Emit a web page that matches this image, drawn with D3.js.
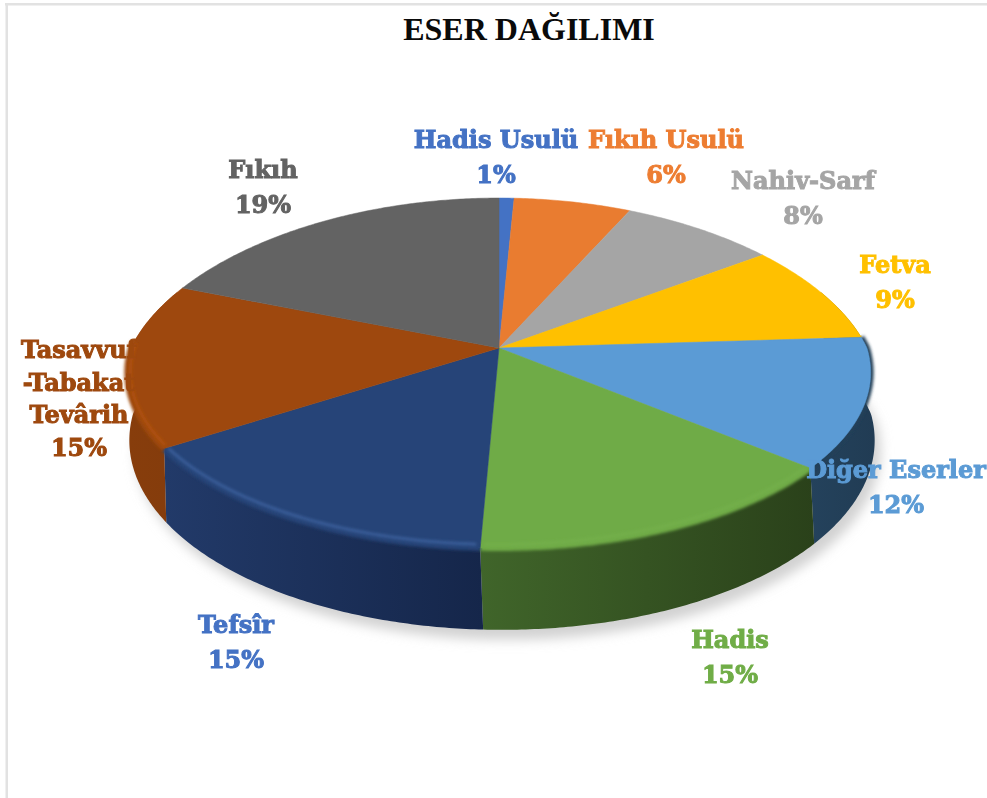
<!DOCTYPE html>
<html>
<head>
    <meta charset="utf-8">
    <style>
        body { margin: 0; background: #fff; }
        svg { display: block; }
        .title { font: bold 32px "Liberation Serif", serif; fill: #0a0a0a; text-anchor: middle; }
        .lbl { font: bold 24px "DejaVu Serif", serif; text-anchor: middle; stroke-width: 1px; }
    </style>
</head>
<body>
    <svg width="987" height="798"></svg>

    <script src="https://cdn.jsdelivr.net/npm/d3@7/dist/d3.min.js"></script>
    <script>
        var categories = ["Hadis Usulü", "Fıkıh Usulü", "Nahiv-Sarf", "Fetva", "Diğer Eserler", "Hadis", "Tefsîr", "Tasavvuf -Tabakat Tevârih", "Fıkıh"];
        // the labels round these, the slices show a little more
        var values = [0.8, 6.2, 8, 9, 12, 14.7, 15.2, 15.1, 19];
        var labelLines = [["Hadis Usulü"], ["Fıkıh Usulü"], ["Nahiv-Sarf"], ["Fetva"], ["Diğer Eserler"], ["Hadis"], ["Tefsîr"], ["Tasavvuf", "-Tabakat", "Tevârih"], ["Fıkıh"]];

        var faceColors = ["#4472c4", "#e97c30", "#a5a5a5", "#ffc000", "#5b9bd5", "#6fab47", "#264478", "#9e480e", "#636363"];
        var bevelColors = ["#4472c4", "#e97c30", "#a5a5a5", "#ffc000", "#223f58", "#6fab47", "#264478", "#9e480e", "#636363"];
        var labelColors = ["#4472c4", "#ed7d31", "#a5a5a5", "#ffc000", "#5b9bd5", "#70ad47", "#4472c4", "#9e480e", "#636363"];
        var wallLeft = ["#000", "#000", "#000", "#5f4700", "#24425c", "#40652a", "#223a69", "#873d0c", "#000"];
        var wallRight = ["#000", "#000", "#000", "#5f4700", "#213c54", "#2a411a", "#15264a", "#843c0c", "#000"];
        var rimLight = [null, null, null, null, null, "#74b04b", "#3c629f", "#b3520f", null];

        // label anchor: centre x, first baseline y
        var labelX = [496, 666, 803, 895, 896, 730, 236, 79, 263];
        var labelY = [148, 148, 189, 273, 478, 648, 633, 358, 178];

        var svg = d3.select("svg");
        var defs = svg.append("defs");

        function blur(id, sd) {
            defs.append("filter").attr("id", id)
                .attr("x", "-20%").attr("y", "-20%").attr("width", "140%").attr("height", "140%")
                .append("feGaussianBlur").attr("stdDeviation", sd);
        }
        blur("shadow", 6);
        blur("soft", 1.4);
        blur("txt", 0.35);

        // the top face and the foot of the wall, both in perspective
        var face = { cx: 499, cy: 348, a: 368, b: 171.4 };
        var foot = { cx: 502, cy: 414, a: 369, b: 185 };

        function project(ring, t) {
            var u = Math.sin(t), v = Math.cos(t);
            var kx = v > 0 ? 0.22 : 0.14;
            return [ring.cx + ring.a * u / (1 + kx * v), ring.cy - ring.b * v / (1 + v / 7)];
        }

        var line = d3.line();

        function arcPoints(ring, t0, t1) {
            var n = Math.max(2, Math.ceil((t1 - t0) / 0.01));
            var angle = d3.scaleLinear().domain([0, n]).range([t0, t1]);
            return d3.range(n + 1).map(function(i) { return project(ring, angle(i)); });
        }

        var pie = d3.pie().sort(null).value(function(d) { return d; });
        var arcs = pie(values);
        var pct = d3.format(".0f");

        // frame
        svg.append("rect").attr("x", 5).attr("y", 3).attr("width", 982).attr("height", 2.5).attr("fill", "#e2e2e2");
        svg.append("rect").attr("x", 5.5).attr("y", 3).attr("width", 2.5).attr("height", 795).attr("fill", "#e2e2e2");

        svg.append("text").attr("class", "title").attr("x", 529).attr("y", 40).text("ESER DAĞILIMI");

        // shadow under the disc
        var ALL = 2 * Math.PI;
        svg.append("path")
            .attr("d", line(arcPoints(foot, 0, ALL)) + "Z")
            .attr("transform", "translate(6,10)")
            .attr("fill", "#d2d2d2")
            .attr("filter", "url(#shadow)");

        // walls
        var wallFrom = 70 * Math.PI / 180, wallTo = 290 * Math.PI / 180;
        arcs.forEach(function(d, i) {
            var t0 = Math.max(d.startAngle, wallFrom), t1 = Math.min(d.endAngle, wallTo);
            if (t1 <= t0) return;
            var gid = "wall" + i;
            var g = defs.append("linearGradient").attr("id", gid);
            g.append("stop").attr("offset", "0").attr("stop-color", wallLeft[i]);
            g.append("stop").attr("offset", "1").attr("stop-color", wallRight[i]);
            var pts = arcPoints(face, t0, t1).concat(arcPoints(foot, t0, t1).reverse());
            svg.append("path").attr("d", line(pts) + "Z").attr("fill", "url(#" + gid + ")");
        });

        // soft bevel round the front of the face
        var bevelFrom = 86 * Math.PI / 180, bevelTo = 272 * Math.PI / 180;
        arcs.forEach(function(d, i) {
            var t0 = Math.max(d.startAngle, bevelFrom), t1 = Math.min(d.endAngle, bevelTo);
            if (t1 <= t0) return;
            svg.append("path").attr("d", line(arcPoints(face, t0, t1)))
                .attr("fill", "none").attr("stroke", bevelColors[i]).attr("stroke-width", 6)
                .attr("filter", "url(#soft)");
        });

        // slices of the face
        var centre = [face.cx, face.cy];
        arcs.forEach(function(d, i) {
            var pts = [centre].concat(arcPoints(face, d.startAngle, d.endAngle));
            svg.append("path").attr("d", line(pts) + "Z").attr("fill", faceColors[i])
                .attr("stroke", faceColors[i]).attr("stroke-width", 0.5);
        });

        // lighter line on the bevel
        arcs.forEach(function(d, i) {
            if (!rimLight[i]) return;
            var inner = { cx: face.cx, cy: face.cy, a: face.a - 3, b: face.b - 3 };
            var t1 = Math.min(d.endAngle, bevelTo);
            svg.append("path").attr("d", line(arcPoints(inner, d.startAngle + 0.01, t1 - 0.01)))
                .attr("fill", "none").attr("stroke", rimLight[i]).attr("stroke-width", 2.5)
                .attr("filter", "url(#soft)");
        });

        // labels
        arcs.forEach(function(d, i) {
            var lines = labelLines[i].concat([pct(d.value) + "%"]);
            var t = svg.append("g").attr("filter", "url(#txt)");
            var step = lines.length > 2 ? 32.7 : 35;
            lines.forEach(function(s, j) {
                t.append("text").attr("class", "lbl")
                    .attr("x", labelX[i]).attr("y", labelY[i] + j * step)
                    .attr("fill", labelColors[i]).attr("stroke", labelColors[i])
                    .text(s);
            });
        });
    </script>
</body>
</html>
